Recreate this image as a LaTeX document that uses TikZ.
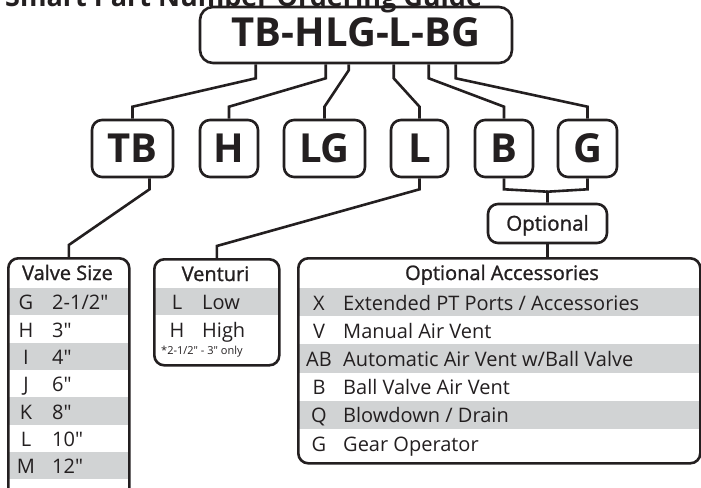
\documentclass[tikz,border=0pt]{standalone}
\usepackage{fontspec}
\setmainfont{Open Sans}
\newfontfamily\plain{Open Sans}
\newfontfamily\semibold[FakeBold=1.2]{Open Sans}
\usetikzlibrary{calc}
\definecolor{ink}{RGB}{35,31,32}
\definecolor{rowgray}{RGB}{209,211,212}

\begin{document}
\begin{tikzpicture}[x=1pt,y=-1pt,
  every node/.style={text=ink},
  partbox/.style={draw=ink,line width=2.6pt,rounded corners=10pt,inner sep=0pt,text height=28pt,text depth=0pt,font=\fontsize{40}{40}\selectfont\bfseries},
  listbox/.style={draw=ink,line width=2.6pt,rounded corners=10pt,inner sep=0pt,anchor=north west},
  link/.style={draw=ink,line width=2.6pt},
  head/.style={anchor=base,inner sep=0pt,font=\fontsize{20}{20}\semibold},
  key/.style={anchor=base,inner sep=0pt,font=\fontsize{20}{20}\plain},
  item/.style={anchor=base west,inner sep=0pt,font=\fontsize{20}{20}\plain}]
  \useasboundingbox (0,0) rectangle (701,487);
  \clip (0,0) rectangle (701,487);

  % heading, cut at the top
  \node[anchor=base west,inner sep=0pt,font=\fontsize{27}{27}\selectfont\bfseries] (title) at (5,7) {Smart Part Number Ordering Guide};

  % full part number and its pieces
  \node[partbox,rounded corners=13pt,minimum width=312,minimum height=56,text depth=5pt] (full) at (356,35) {TB-HLG-L-BG};
  \node[partbox,minimum width=81,minimum height=57] (tb) at (132.5,148.5) {TB};
  \node[partbox,minimum width=58,minimum height=57] (h) at (229,148.5) {H};
  \node[partbox,minimum width=81,minimum height=57] (lg) at (324.5,148.5) {LG};
  \node[partbox,minimum width=57,minimum height=57] (l) at (419.5,148.5) {L};
  \node[partbox,minimum width=58,minimum height=57] (b) at (504,148.5) {B};
  \node[partbox,minimum width=59,minimum height=57] (g) at (587.5,148.5) {G};
  \node[partbox,minimum width=119,minimum height=39,text height=14.3pt,font=\fontsize{20.5}{20}\semibold] (opt) at (547.5,223.5) {Optional};

  % shaded rows
  \fill[rowgray] (8,288) rectangle (128,315.3);
  \fill[rowgray] (8,342.7) rectangle (128,370);
  \fill[rowgray] (8,397.3) rectangle (128,424.7);
  \fill[rowgray] (8,452) rectangle (128,479.3);
  \fill[rowgray] (154,288) rectangle (278,315.3);
  \fill[rowgray] (298,288) rectangle (699,316.2);
  \fill[rowgray] (298,344.3) rectangle (699,372.5);
  \fill[rowgray] (298,400.7) rectangle (699,428.8);

  % the three lists
  \node[listbox,minimum width=121,minimum height=280] (valve) at (7,257) {};
  \node[listbox,minimum width=125,minimum height=106] (venturi) at (153,258) {};
  \node[listbox,minimum width=402,minimum height=205] (acc) at (297,257) {};

  \node[head] (valvehead) at (67.5,280) {Valve Size};
  \node[key] (kg) at (26,309.7) {G};  \node[item] (vg) at (52,309.7) {2-1/2"};
  \node[key] (kh) at (26,337) {H};    \node[item] (vh) at (52,337) {3"};
  \node[key] (ki) at (26,364.3) {I};  \node[item] (vi) at (52,364.3) {4"};
  \node[key] (kj) at (26,391.7) {J};  \node[item] (vj) at (52,391.7) {6"};
  \node[key] (kk) at (26,419) {K};    \node[item] (vk) at (52,419) {8"};
  \node[key] (kl) at (26,446.3) {L};  \node[item] (vl) at (52,446.3) {10"};
  \node[key] (km) at (26,473.7) {M};  \node[item] (vm) at (52,473.7) {12"};

  \node[head] (venthead) at (215.5,281) {Venturi};
  \node[key] (klow) at (177,309.7) {L};  \node[item] (vlow) at (202,309.7) {Low};
  \node[key] (khigh) at (177,337) {H};   \node[item] (vhigh) at (202,337) {High};
  \node[item,font=\fontsize{11}{11}\plain] (note) at (161,354) {*2-1/2" - 3" only};

  \node[head] (acchead) at (502,280) {Optional Accessories};
  \node[key] (kx) at (319,310) {X};     \node[item] (vx) at (343,310) {Extended PT Ports / Accessories};
  \node[key] (kv) at (319,338.3) {V};   \node[item] (vv) at (343,338.3) {Manual Air Vent};
  \node[key] (kab) at (319,366.5) {AB}; \node[item] (vab) at (343,366.5) {Automatic Air Vent w/Ball Valve};
  \node[key] (kb) at (319,394.7) {B};   \node[item] (vb) at (343,394.7) {Ball Valve Air Vent};
  \node[key] (kq) at (319,422.8) {Q};   \node[item] (vq) at (343,422.8) {Blowdown / Drain};
  \node[key] (kgear) at (319,451) {G};  \node[item] (vgear) at (343,451) {Gear Operator};

  % connectors
  \draw[link] ($(full.south west)+(57,0)$) -- ++(0,14) -- ($(tb.north)+(0,-12)$) -- (tb.north);
  \draw[link] ($(full.south west)+(127,0)$) -- ++(0,14) -- ($(h.north)+(0,-12)$) -- (h.north);
  \draw[link] ($(full.south west)+(150,0)$) -- ++(0,6) -- ($(lg.north)+(0,-12)$) -- (lg.north);
  \draw[link] ($(full.south west)+(195,0)$) -- ++(0,14) -- ($(l.north)+(0,-12)$) -- (l.north);
  \draw[link] ($(full.south west)+(230,0)$) -- ++(0,14) -- ($(b.north)+(0,-12)$) -- (b.north);
  \draw[link] ($(full.south west)+(257,0)$) -- ++(0,14) -- ($(g.north)+(0,-12)$) -- (g.north);

  \coordinate (join) at ($(opt.north)+(0,-11)$);
  \draw[link] ($(tb.south)+(17,0)$) -- ++(0,11) -- ($(valve.north)+(0,-12)$) -- (valve.north);
  \draw[link] (l.south) -- ++(0,11) -- ($(venturi.north)+(0,-12)$) -- (venturi.north);
  \draw[link] (b.south) -- ++(0,11) -- (join);
  \draw[link] (g.south) -- ++(0,11) -- (join) -- (opt.north);
  \draw[link] (opt.south) -- (opt.south |- acc.north);
\end{tikzpicture}
\end{document}
